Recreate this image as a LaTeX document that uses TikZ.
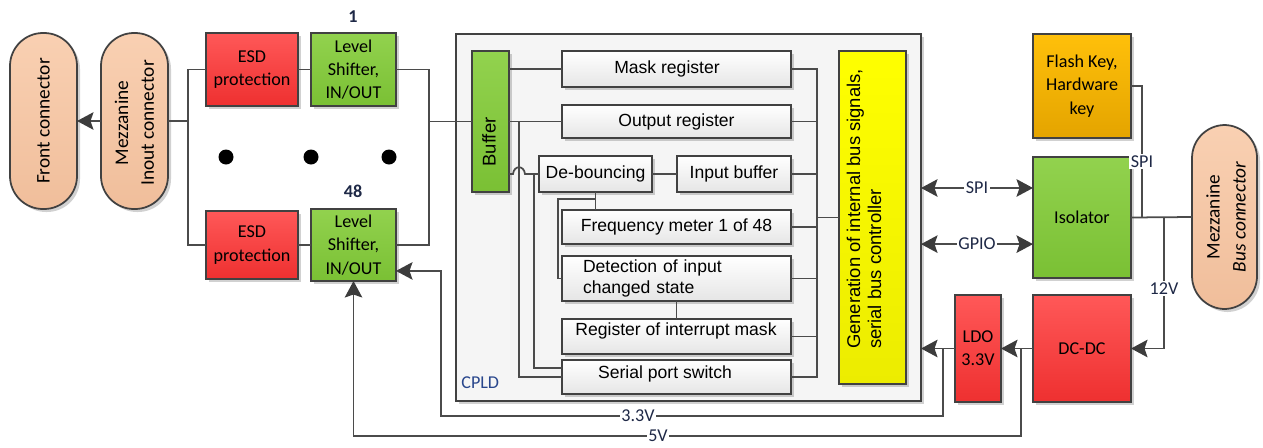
\documentclass[tikz,border=0pt]{standalone}
\usepackage{fontspec}
\setmainfont{Carlito}
\newfontfamily\arialfam{Liberation Sans}
\usetikzlibrary{arrows.meta,calc,shadows}

\definecolor{wirec}{RGB}{75,75,75}
\definecolor{bdr}{RGB}{65,65,65}
\definecolor{tipc}{RGB}{60,60,60}
\definecolor{redT}{RGB}{255,88,88}
\definecolor{redB}{RGB}{238,48,48}
\definecolor{greenT}{RGB}{146,210,78}
\definecolor{greenB}{RGB}{122,192,52}
\definecolor{orangeT}{RGB}{255,192,10}
\definecolor{orangeB}{RGB}{228,164,0}
\definecolor{yellowT}{RGB}{255,255,0}
\definecolor{yellowB}{RGB}{236,236,0}
\definecolor{peachT}{RGB}{249,208,178}
\definecolor{peachB}{RGB}{240,190,155}
\definecolor{cpldc}{RGB}{245,245,245}
\definecolor{lblc}{RGB}{30,40,70}
\definecolor{cpldtxt}{RGB}{40,70,140}

\newcommand\fcal{\fontsize{10.3}{13.3}\selectfont}
\newcommand\fcalbig{\fontsize{11}{14.7}\selectfont}
\newcommand\farl{\arialfam\fontsize{10}{12}\selectfont}
\newcommand\farlg{\arialfam\fontsize{10.5}{12}\selectfont}

% box from corner (x1,y1) to (x2,y2), in pixel units
\newcommand\placebox[7]{%
  \pgfmathsetmacro\pbW{(#5-#3)*0.02}%
  \pgfmathsetmacro\pbH{(#6-#4)*0.02}%
  \node[#2, minimum width=\pbW cm, minimum height=\pbH cm] (#1) at ({(#3+#5)/2},{(#4+#6)/2}) {#7};}

\tikzset{
  tip/.tip={Stealth[length=0.33cm,width=0.35cm,inset=0.06cm,color=tipc]},
  wire/.style={draw=wirec, line width=1pt},
  arr/.style={wire, -tip},
  darr/.style={wire, tip-tip},
  dsh/.style={drop shadow={shadow xshift=0.06cm,shadow yshift=-0.06cm,opacity=0.18,fill=black}},
  blockbase/.style={draw=bdr, line width=1pt, inner sep=1pt, outer sep=0pt, align=center, dsh},
  redbox/.style={blockbase, top color=redT, bottom color=redB, font=\fcal},
  greenbox/.style={blockbase, top color=greenT, bottom color=greenB, font=\fcal},
  orangebox/.style={blockbase, top color=orangeT, bottom color=orangeB, font=\fcal},
  yellowbox/.style={blockbase, top color=yellowT, bottom color=yellowB},
  whitebox/.style={blockbase, top color=white, bottom color=black!10, font=\farl},
  pill/.style={blockbase, rounded corners=0.66cm, top color=peachT, bottom color=peachB},
  cpldbox/.style={draw=bdr, line width=1pt, fill=cpldc, outer sep=0pt, dsh},
  lbl/.style={font=\fcal, text=lblc, inner sep=1pt},
  lblw/.style={lbl, fill=white},
  rtxt/.style={rotate=90, align=center, inner sep=0pt},
  bigdot/.style={circle, fill=black, minimum size=0.3cm, inner sep=0pt},
}

\begin{document}
\begin{tikzpicture}[x=0.02cm,y=-0.02cm]
\useasboundingbox (0,0) rectangle (1263,447);

% connectors on the left
\placebox{fc}{pill}{10}{33}{77}{209}{}
\node[rtxt, font=\fcalbig] (fctxt) at (fc.center) {Front connector};
\placebox{mi}{pill}{101}{33}{168}{209}{}
\node[rtxt, font=\fcalbig] (mitxt) at (134.5,123) {Mezzanine\\Inout connector};

% channel 1 and channel 48
\placebox{esd1}{redbox}{206}{33}{298}{106}{ESD\\protection}
\placebox{ls1}{greenbox}{311}{33}{396}{106}{Level\\Shifter,\\IN/OUT}
\placebox{esd2}{redbox}{206}{211}{298}{279}{ESD\\protection}
\placebox{ls2}{greenbox}{311}{209}{396}{281}{Level\\Shifter,\\IN/OUT}
\node[lbl, font=\fcal\bfseries] (n1) at (353,17) {1};
\node[lbl, font=\fcal\bfseries] (n48) at (353,191) {48};
\node[bigdot] (dot1) at (226,157) {};
\node[bigdot] (dot2) at (311,157) {};
\node[bigdot] (dot3) at (389,157) {};

% CPLD
\placebox{cpld}{cpldbox}{456}{34}{921}{401}{}
\node[font=\fcal, text=cpldtxt, anchor=west, inner sep=0pt] (cpldlbl) at (461,383) {CPLD};
\placebox{buf}{greenbox}{472}{51}{509}{192}{}
\node[rtxt, font=\farlg] (buftxt) at (489,142) {Buffer};
\placebox{mask}{whitebox}{562}{51}{791}{87}{}
\node[font=\farl, inner sep=0pt] (masktxt) at (667,69) {Mask register};
\placebox{outr}{whitebox}{562}{105}{791}{138}{Output register}
\placebox{deb}{whitebox}{539}{156}{652}{192}{De-bouncing}
\placebox{inb}{whitebox}{677}{156}{791}{192}{Input buffer}
\placebox{freq}{whitebox}{562}{210}{791}{244}{Frequency meter 1 of 48}
\placebox{det}{whitebox, align=left, text width=3.74cm, inner xsep=0.42cm}{562}{256}{791}{301}{Detection of input\\changed state}
\placebox{rim}{whitebox}{562}{319}{791}{354}{}
\node[font=\farl, inner sep=0pt] (rimtxt) at (676,331) {Register of interrupt mask};
\placebox{sps}{whitebox}{562}{360}{791}{394}{}
\node[font=\farl, inner sep=0pt] (spstxt) at (665,374) {Serial port switch};
\placebox{gen}{yellowbox}{839}{51}{906}{384}{}
\node[rotate=90, align=left, font=\farlg, inner sep=0pt] (gentxt) at (864,209) {Generation of internal bus signals,\\serial bus controller};

% right-hand blocks
\placebox{flash}{orangebox}{1033}{34}{1131}{138}{Flash Key,\\Hardware\\key}
\placebox{iso}{greenbox}{1033}{157}{1131}{278}{Isolator}
\placebox{ldo}{redbox}{955}{295}{1001}{402}{LDO\\3.3V}
\placebox{dcdc}{redbox}{1033}{295}{1131}{402}{DC-DC}
\placebox{mb}{pill}{1192}{125}{1257}{309}{}
\node[rtxt, font=\fcalbig] (mbtxt) at (1226,217) {Mezzanine\\\textit{Bus connector}};

% wiring of the input channels
\draw[arr] (mi.west) -- (fc.east);
\coordinate (jl) at (188,121);
\draw[wire] (mi.east) -- (jl);
\draw[wire] (esd1.west) -| (jl) |- (esd2.west);
\draw[wire] (esd1.east) -- (ls1.west);
\draw[wire] (esd2.east) -- (esd2.east -| ls2.west);
\coordinate (jr) at (429,121.5);
\draw[wire] (ls1.east) -| (jr) |- (ls2.east);
\draw[wire] (jr) -- (buf.west);

% wiring inside the CPLD, buffer side
\draw[wire] (buf.east |- mask.west) -- (mask.west);
\draw[wire] (buf.east |- outr.west) -- (outr.west);
\coordinate (b1) at (519,121.5);
\draw[wire] (b1) |- (sps.west);
\draw[wire] (buf.east |- deb.west) -- (513,174) .. controls (514,165) and (524,165) .. (525,174) -- (deb.west);
\coordinate (j2) at (534,174);
\draw[wire] (j2) |- ($(sps.west)+(0,-9)$);
\draw[wire] (deb.east) -- (inb.west);
\draw[wire] (deb.south) -- (deb.south |- freq.north);
\coordinate (d1) at (595.5,199);
\draw[wire] (d1) -- (558,199) |- (det.west);
\draw[wire] (det.south) -- (rim.north);

% internal bus to the controller
\coordinate (busT) at (817,69);
\coordinate (busB) at (817,377);
\draw[wire] (mask.east) -- (busT) -- (busB) -- (sps.east);
\foreach \n in {outr,inb,freq,det,rim}
  \draw[wire] (\n.east) -- (\n.east -| busT);
\draw[wire] (gen.west) -- (gen.west -| busT);

% isolated interface
\coordinate (spiP) at ($(iso.north west)!0.256!(iso.south west)$);
\coordinate (gpioP) at ($(iso.north west)!0.72!(iso.south west)$);
\draw[darr] (cpld.east |- spiP) -- (spiP) node[lblw, midway] {SPI};
\draw[darr] (cpld.east |- gpioP) -- (gpioP) node[lblw, midway] {GPIO};
\draw[wire] (iso.east) -- (mb.west);
\coordinate (fj) at (1142,217.5);
\draw[wire] (flash.east) -| (fj) node[lblw, pos=0.786] {SPI};

% power supply
\coordinate (v12) at (1164,217.5);
\draw[arr] (v12) |- (dcdc.east) node[lblw, pos=0.27] {12V};
\draw[arr] (dcdc.west) -- (ldo.east);
\draw[arr] (ldo.west) -- (ldo.west -| cpld.east);
\coordinate (t33) at ($(ldo.west)+(-12,0)$);
\coordinate (r33) at (441,416);
\coordinate (ls2in) at ($(ls2.north east)!0.86!(ls2.south east)$);
\draw[arr] (t33) |- (r33) |- (ls2in);
\node[lblw] (v33) at (638,416) {3.3V};
\coordinate (t5) at ($(dcdc.west)+(-12,0)$);
\coordinate (y5) at (0,436);
\coordinate (r5) at (ls2.south |- y5);
\draw[arr] (t5) |- (r5) -- (ls2.south);
\node[lblw] (v5) at (658,436) {5V};
\end{tikzpicture}
\end{document}
